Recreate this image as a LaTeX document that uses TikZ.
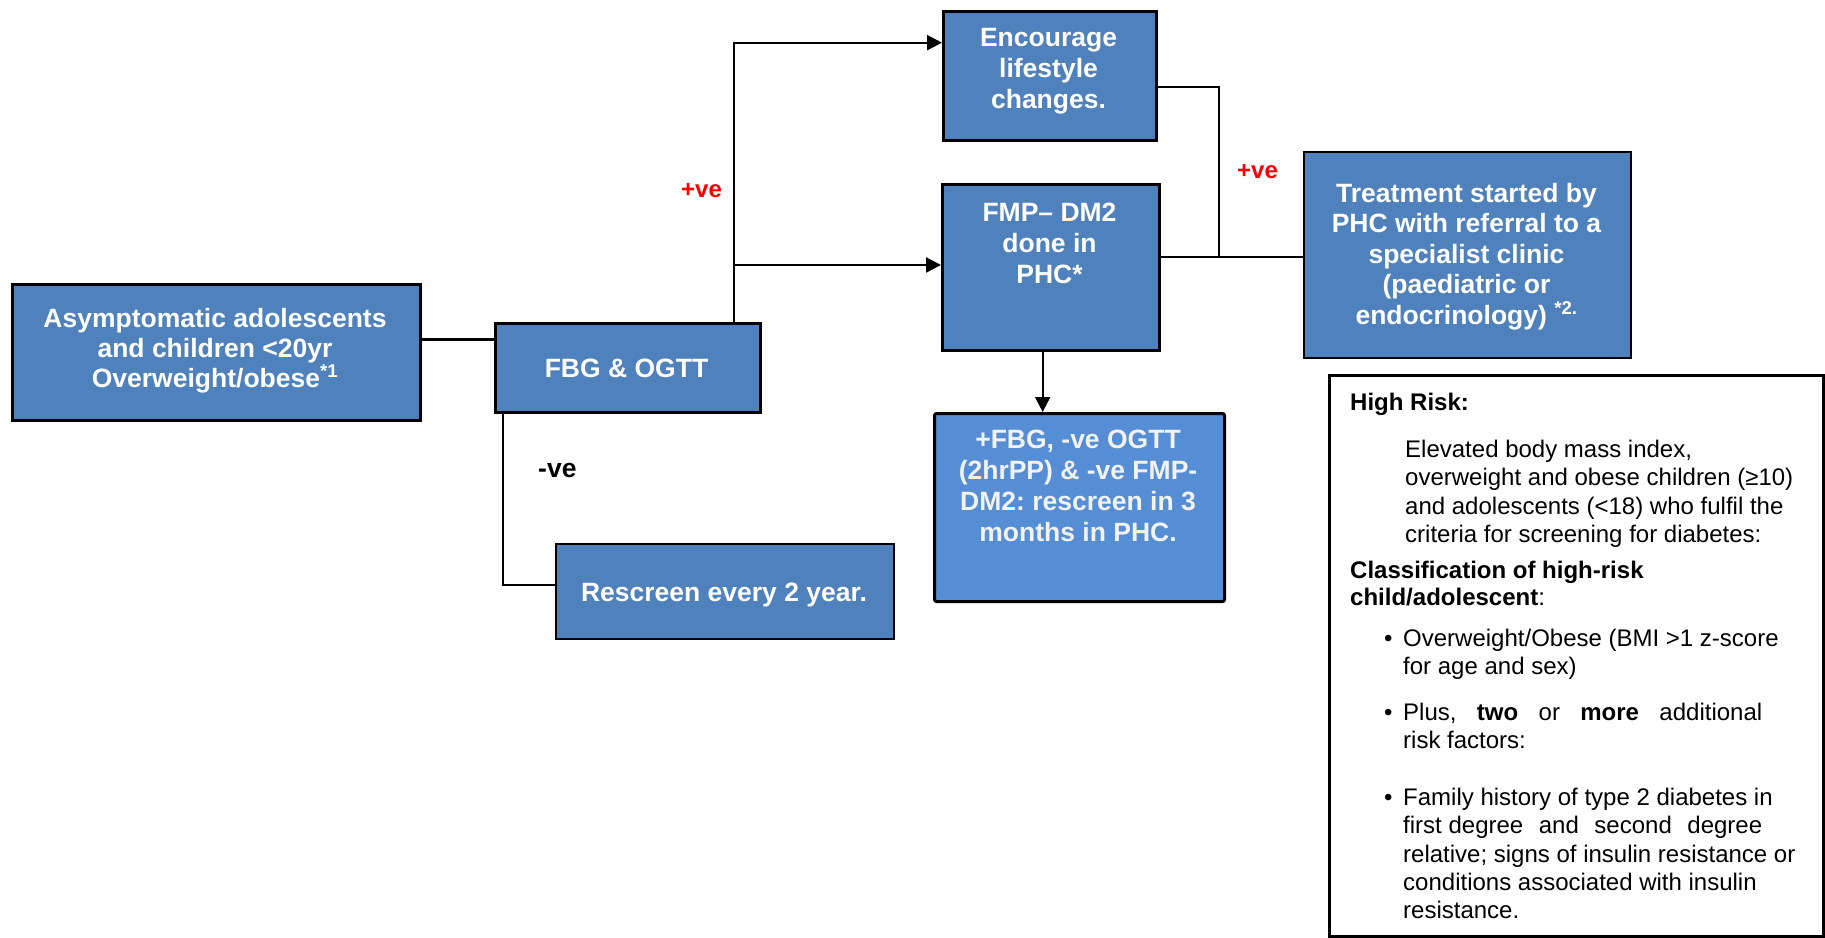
\documentclass[tikz,border=0pt]{standalone}
\usepackage{fontspec}
\setmainfont{Liberation Sans}
\usetikzlibrary{arrows.meta}
\definecolor{boxblue}{HTML}{4F81BD}
\definecolor{boxlight}{HTML}{558ED5}
\definecolor{softwhite}{HTML}{F2F2F2}
\definecolor{tagred}{HTML}{FF0000}
\frenchspacing
\begin{document}
\begin{tikzpicture}[x=1pt,y=-1pt,
  flowbox/.style={draw=black, fill=boxblue, rectangle, inner sep=0pt, anchor=north west},
  flowtext/.style={text=white, font=\fontsize{26.5}{30}\selectfont\bfseries, inner sep=0pt, anchor=base},
  notetext/.style={font=\fontsize{24}{28}\selectfont, inner sep=0pt, anchor=base west},
  conn/.style={draw=black, line width=2.2pt},
  arrowconn/.style={conn, -{Triangle[length=15pt,width=15pt]}},
  tag/.style={font=\fontsize{24}{27}\selectfont\bfseries, inner sep=0pt, anchor=base west},
]
\useasboundingbox (0,0) rectangle (1825,937);

% ---- flow boxes ----
\node[flowbox, line width=3.4pt, minimum width=408pt, minimum height=136pt] (asym) at (11,283) {};
\node[flowbox, line width=3.3pt, minimum width=265pt, minimum height=89pt] (fbg) at (494,322) {};
\node[flowbox, line width=2.3pt, minimum width=338pt, minimum height=95pt] (resc) at (555,543) {};
\node[flowbox, line width=3.3pt, minimum width=213pt, minimum height=129pt] (enc) at (942,10) {};
\node[flowbox, line width=3.3pt, minimum width=217pt, minimum height=166pt] (fmp) at (941,183) {};
\node[flowbox, line width=2.3pt, minimum width=327pt, minimum height=206pt] (treat) at (1303,151) {};
\node[flowbox, fill=boxlight, line width=3pt, rounded corners=2pt, minimum width=290pt, minimum height=188pt] (pfbg) at (933,412) {};
\node[draw=black, fill=white, line width=3pt, inner sep=0pt, anchor=north west, minimum width=494pt, minimum height=561pt] (risk) at (1328,374) {};

% ---- box texts ----
\node[flowtext] (asym-1) at (215,327) {Asymptomatic adolescents};
\node[flowtext] (asym-2) at (215,357) {and children <20yr};
\node[flowtext] (asym-3) at (215,387) {Overweight/obese\textsuperscript{*1}};

\node[flowtext] (fbg-1) at (626.5,377) {FBG \& OGTT};

\node[flowtext] (resc-1) at (724,601) {Rescreen every 2 year.};

\node[flowtext] (enc-1) at (1048.5,46) {Encourage};
\node[flowtext] (enc-2) at (1048.5,77) {lifestyle};
\node[flowtext] (enc-3) at (1048.5,108) {changes.};

\node[flowtext] (fmp-1) at (1049.5,221) {FMP-- DM2};
\node[flowtext] (fmp-2) at (1049.5,252) {done in};
\node[flowtext] (fmp-3) at (1049.5,283) {PHC*};

\node[flowtext] (treat-1) at (1466.5,202) {Treatment started by};
\node[flowtext] (treat-2) at (1466.5,232) {PHC with referral to a};
\node[flowtext] (treat-3) at (1466.5,263) {specialist clinic};
\node[flowtext] (treat-4) at (1466.5,293) {(paediatric or};
\node[flowtext] (treat-5) at (1466.5,324) {endocrinology) \textsuperscript{*2.}};

\node[flowtext, text=softwhite] (pfbg-1) at (1078,448) {+FBG, -ve OGTT};
\node[flowtext, text=softwhite] (pfbg-2) at (1078,479) {(2hrPP) \& -ve FMP-};
\node[flowtext, text=softwhite] (pfbg-3) at (1078,510) {DM2: rescreen in 3};
\node[flowtext, text=softwhite] (pfbg-4) at (1078,541) {months in PHC.};

% ---- connectors ----
\draw[conn, line width=3.3pt] ([yshift=13pt]asym.east) -- ([yshift=13pt]asym.east -| fbg.west);
\coordinate (trunk) at (734,265);
\draw[arrowconn] (fbg.north -| trunk) |- ([yshift=33.5pt]enc.west);
\draw[arrowconn] (trunk) -- (trunk -| fmp.west);
\draw[conn] ([xshift=9pt]fbg.south west) |- ([yshift=7pt]resc.west);
\coordinate (merge) at (1219,257);
\draw[conn] ([yshift=-10.5pt]enc.east) -| (merge);
\draw[conn] (merge -| fmp.east) -- (merge -| treat.west);
\draw[arrowconn] ([xshift=-8.5pt]fmp.south) -- ([xshift=-8.5pt]fmp.south |- pfbg.north);

% ---- branch labels ----
\node[tag, text=tagred] (pos1) at (681,197) {+ve};
\node[tag, text=tagred] (pos2) at (1237,178) {+ve};
\node[tag, font=\fontsize{26.5}{30}\selectfont\bfseries] (neg) at (538,477) {-ve};

% ---- high-risk notes ----
\node[notetext, font=\fontsize{24}{28}\selectfont\bfseries] (hr-0) at (1350,410) {High Risk:};
\node[notetext] (hr-1) at (1405,457) {Elevated body mass index,};
\node[notetext] (hr-2) at (1405,485) {overweight and obese children (≥10)};
\node[notetext] (hr-3) at (1405,514) {and adolescents (<18) who fulfil the};
\node[notetext] (hr-4) at (1405,542) {criteria for screening for diabetes:};
\node[notetext, font=\fontsize{24}{28}\selectfont\bfseries] (hr-5) at (1350,578) {Classification of high-risk};
\node[notetext] (hr-6) at (1350,605) {\textbf{child/adolescent}:};
\node[notetext] (b-1) at (1384,646) {•};
\node[notetext] (hr-7) at (1403,646) {Overweight/Obese (BMI >1 z-score};
\node[notetext] (hr-8) at (1403,674) {for age and sex)};
\node[notetext] (b-2) at (1384,720) {•};
\node[notetext] (hr-9) at (1403,720) {\makebox[359pt][s]{Plus, \textbf{two} or \textbf{more} additional}};
\node[notetext] (hr-10) at (1403,748) {risk factors:};
\node[notetext] (b-3) at (1384,805) {•};
\node[notetext] (hr-11) at (1403,805) {Family history of type 2 diabetes in};
\node[notetext] (hr-12) at (1403,833) {\makebox[359pt][s]{first\hspace{0.28em}degree and second degree}};
\node[notetext] (hr-13) at (1403,862) {relative; signs of insulin resistance or};
\node[notetext] (hr-14) at (1403,890) {conditions associated with insulin};
\node[notetext] (hr-15) at (1403,918) {resistance.};
\end{tikzpicture}
\end{document}
